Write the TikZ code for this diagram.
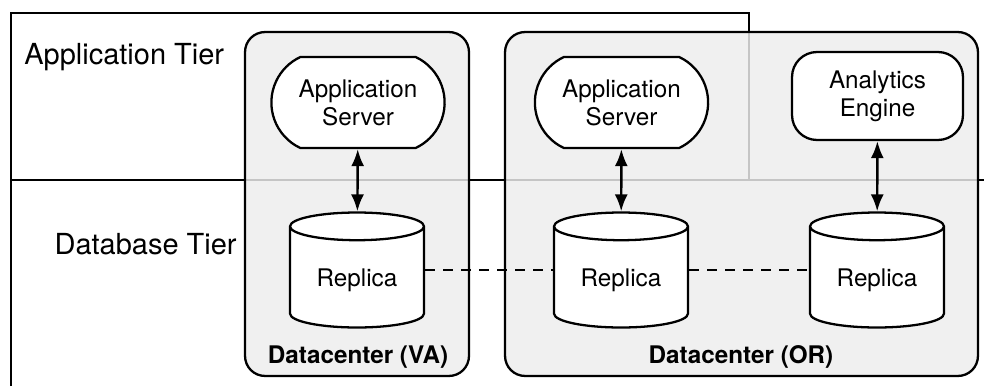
\documentclass[tikz,border=0pt]{standalone}
\usepackage{fontspec}
\setmainfont{TeX Gyre Heros}
\usepackage{tikz}
\usetikzlibrary{positioning, arrows, arrows.meta, shapes.geometric, shapes.misc}
\definecolor{dcgray}{HTML}{EDEDED}

\tikzset{
  tier/.style={draw=black, line width=1.3pt},
  tierlabel/.style={font=\fontsize{16.5}{19}\selectfont, inner sep=0pt},
  dcbox/.style={draw=black, line width=1.3pt, fill=dcgray, fill opacity=0.83, rounded corners=0.4cm, inner sep=0pt},
  dclabel/.style={font=\fontsize{13.8}{16}\selectfont\bfseries, inner sep=0pt},
  server/.style={draw=black, line width=1.3pt, fill=white, rounded rectangle, rounded rectangle arc length=130,
    minimum width=3.7cm, minimum height=1.82cm, align=center, font=\fontsize{13.8}{15.9}\selectfont},
  engine/.style={draw=black, line width=1.3pt, fill=white, rounded corners=0.5cm,
    minimum width=3.42cm, minimum height=1.76cm, align=center, font=\fontsize{13.8}{15.9}\selectfont},
  replica/.style={draw=black, line width=1.3pt, fill=white, cylinder, shape border rotate=90, aspect=0.3,
    minimum width=2.68cm, minimum height=2.3cm, anchor=shape center, font=\fontsize{13.8}{15.9}\selectfont},
  link/.style={line width=1.4pt, {Latex[length=3.4mm,width=2.6mm]}-{Latex[length=3.4mm,width=2.6mm]}},
  sync/.style={line width=1.4pt, dash pattern=on 2mm off 1.6mm}
}

\begin{document}
\begin{tikzpicture}[x=0.02cm, y=-0.02cm]
\useasboundingbox (0,0) rectangle (984,386);

\draw[tier] (11,386) -- (11,13) -- (749,13) -- (749,180);
\draw[tier] (11,180) -- (984,180);
\node[tierlabel, anchor=base west] (apptier) at (24,64) {Application Tier};
\node[tierlabel, anchor=base east] (dbtier) at (237,254) {Database Tier};

\node[dcbox, minimum width=4.48cm, minimum height=6.88cm] (dcva) at (357,204) {};
\node[dcbox, minimum width=9.46cm, minimum height=6.88cm] (dcor) at (741.5,204) {};
\node[dclabel, anchor=base] (dcvalbl) at (358,363) {Datacenter (VA)};
\node[dclabel, anchor=base] (dcorlbl) at (741,363) {Datacenter (OR)};

\node[server] (appva) at (358,102.5) {Application\\Server};
\node[server] (appor) at (621.5,102.5) {Application\\Server};
\node[engine] (analytics) at (877.5,96) {Analytics\\Engine};

\node[replica] (dbva) at (357,270) {Replica};
\node[replica] (dbor) at (621,270) {Replica};
\node[replica] (dban) at (877,270) {Replica};

\draw[link] (appva) -- (dbva);
\draw[link] (appor) -- (dbor);
\draw[link] (analytics) -- (dban);
\draw[sync] (dbva.shape center -| dbva.east) -- (dbor.shape center -| dbor.west);
\draw[sync] (dbor.shape center -| dbor.east) -- (dban.shape center -| dban.west);
\end{tikzpicture}
\end{document}
